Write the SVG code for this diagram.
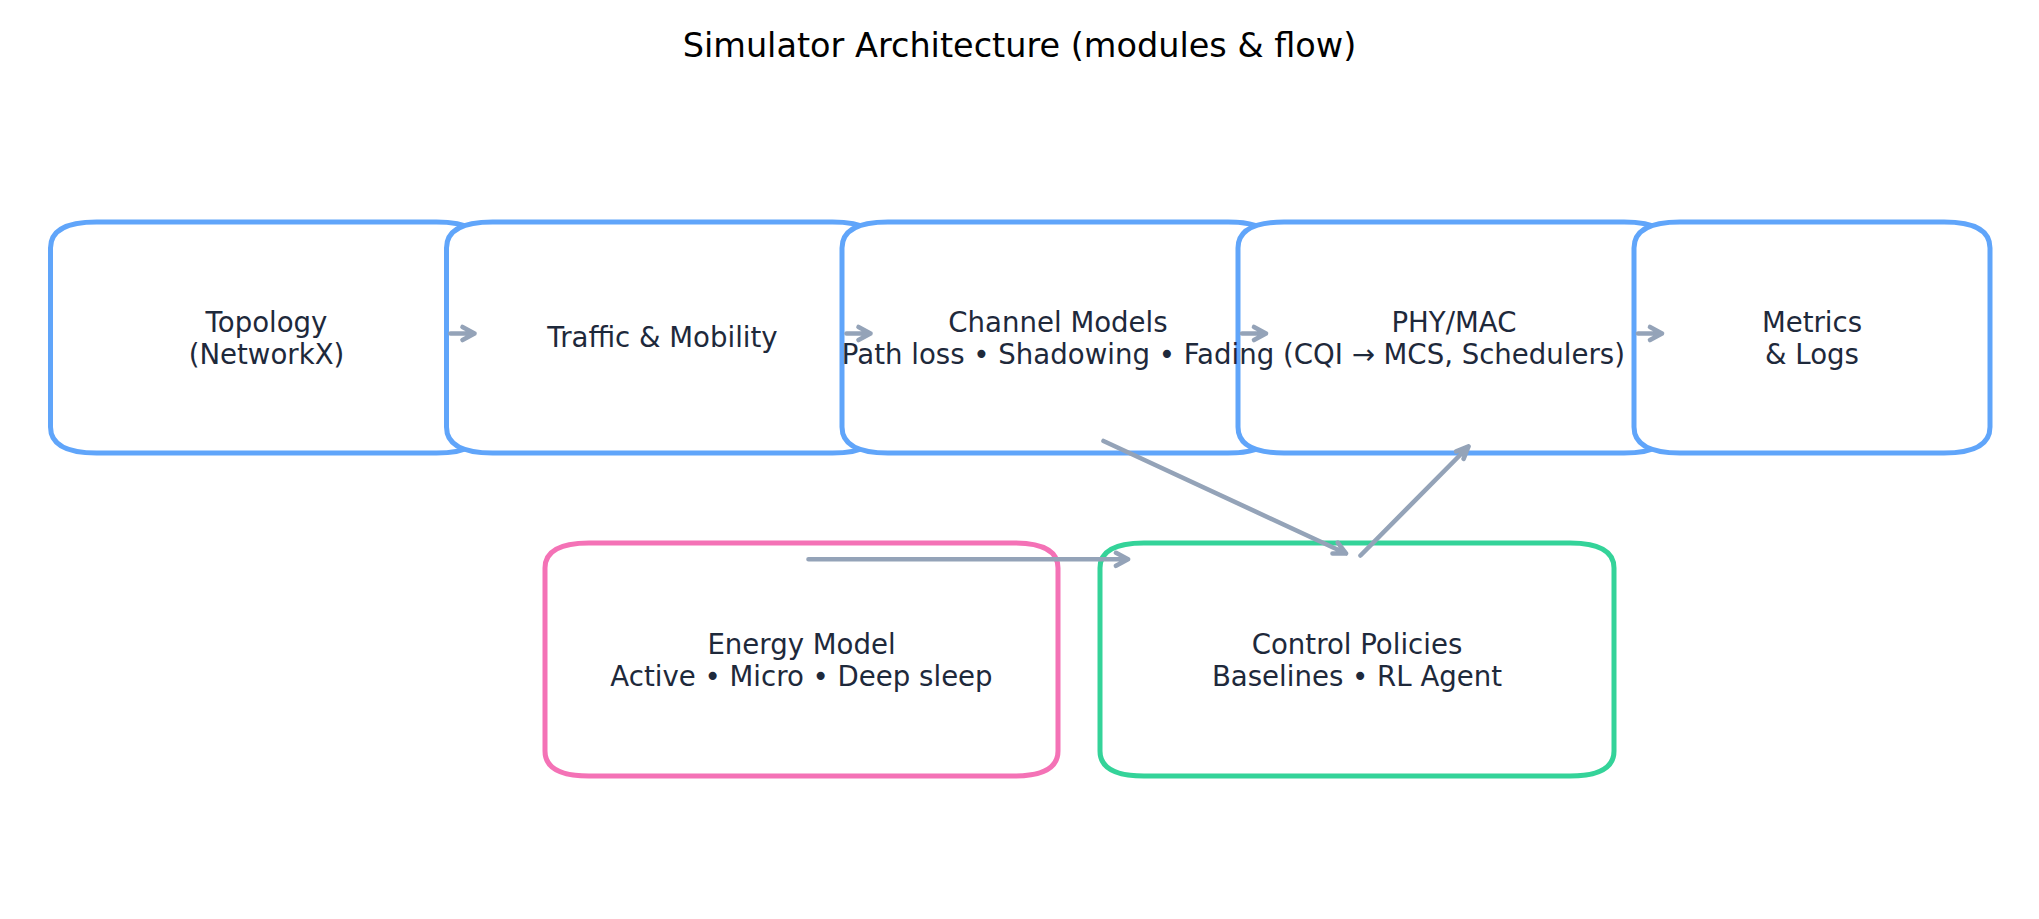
<svg xmlns="http://www.w3.org/2000/svg" width="2039" height="919" viewBox="0 0 2039 919">
<style>
.box{fill:#ffffff;stroke-width:5;stroke-linejoin:round}
.blue{stroke:#60a5fa}
.pink{stroke:#f472b6}
.green{stroke:#34d399}
.lbl{font-family:"DejaVu Sans",sans-serif;font-size:27.6px;fill:#1e293b;text-anchor:middle}
.title{font-family:"DejaVu Sans",sans-serif;font-size:33.5px;fill:#000000;text-anchor:middle}
.arr{fill:none;stroke:#94a3b8;stroke-width:4.6;stroke-linecap:round;stroke-linejoin:round}
</style>
<rect width="2039" height="919" fill="#ffffff"/>
<text class="title" x="1019.5" y="57">Simulator Architecture (modules &amp; flow)</text>
<g id="topology"><path class="box blue" d="M96.5 222 H436.5 Q482.5 222 482.5 248 V427 Q482.5 453 436.5 453 H96.5 Q50.5 453 50.5 427 V248 Q50.5 222 96.5 222 Z"/></g>
<g id="traffic"><path class="box blue" d="M492.5 222 H832.5 Q878.5 222 878.5 248 V427 Q878.5 453 832.5 453 H492.5 Q446.5 453 446.5 427 V248 Q446.5 222 492.5 222 Z"/></g>
<g id="channel"><path class="box blue" d="M888 222 H1228 Q1274 222 1274 248 V427 Q1274 453 1228 453 H888 Q842 453 842 427 V248 Q842 222 888 222 Z"/></g>
<g id="phymac"><path class="box blue" d="M1284 222 H1624 Q1670 222 1670 248 V427 Q1670 453 1624 453 H1284 Q1238 453 1238 427 V248 Q1238 222 1284 222 Z"/></g>
<g id="metrics"><path class="box blue" d="M1680 222 H1944 Q1990 222 1990 248 V427 Q1990 453 1944 453 H1680 Q1634 453 1634 427 V248 Q1634 222 1680 222 Z"/></g>
<g id="energy"><path class="box pink" d="M589 543 H1014 Q1058 543 1058 568 V751 Q1058 776 1014 776 H589 Q545 776 545 751 V568 Q545 543 589 543 Z"/></g>
<g id="control"><path class="box green" d="M1144 543 H1570 Q1614 543 1614 568 V751 Q1614 776 1570 776 H1144 Q1100 776 1100 751 V568 Q1100 543 1144 543 Z"/></g>
<g id="connectors">
<path class="arr" d="M450.5 333.5 H474.5 M462.5 327 L474.5 333.5 L462.5 340"/>
<path class="arr" d="M846.5 333.5 H870.5 M858.5 327 L870.5 333.5 L858.5 340"/>
<path class="arr" d="M1242 333.5 H1266 M1254 327 L1266 333.5 L1254 340"/>
<path class="arr" d="M1638 333.5 H1662 M1650 327 L1662 333.5 L1650 340"/>
<path class="arr" d="M808.5 559.3 H1128 M1116 552.8 L1128 559.3 L1116 565.8"/>
<path class="arr" d="M1103.5 441 L1346 553.5 M1332.5 553.5 L1346 553.5 L1337.8 542.7"/>
<path class="arr" d="M1360.5 555.5 L1468.5 446.5 M1456.2 451.4 L1468.5 446.5 L1463.6 458.8"/>
</g>
<g id="labels">
<text class="lbl" x="266.5" y="331.5">Topology</text>
<text class="lbl" x="266.5" y="364">(NetworkX)</text>
<text class="lbl" x="662.5" y="347">Traffic &amp; Mobility</text>
<text class="lbl" x="1058" y="331.5">Channel Models</text>
<text class="lbl" x="1058" y="364">Path loss • Shadowing • Fading</text>
<text class="lbl" x="1454" y="331.5">PHY/MAC</text>
<text class="lbl" x="1454" y="364">(CQI → MCS, Schedulers)</text>
<text class="lbl" x="1812" y="331.5">Metrics</text>
<text class="lbl" x="1812" y="364">&amp; Logs</text>
<text class="lbl" x="801.5" y="653.5">Energy Model</text>
<text class="lbl" x="801.5" y="686">Active • Micro • Deep sleep</text>
<text class="lbl" x="1357" y="653.5">Control Policies</text>
<text class="lbl" x="1357" y="686">Baselines • RL Agent</text>
</g>
</svg>
